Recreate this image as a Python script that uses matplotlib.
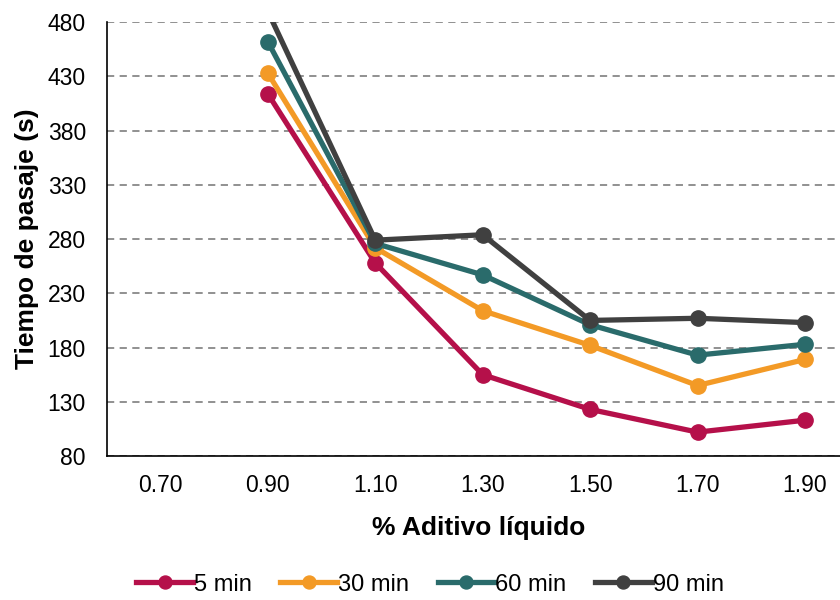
import matplotlib.pyplot as plt

plt.rcParams['font.family'] = ['Liberation Sans', 'DejaVu Sans']

# % aditivo líquido (categorías del eje x)
aditivo = ['0.70', '0.90', '1.10', '1.30', '1.50', '1.70', '1.90']

# Tiempo de pasaje (s) para cada tiempo de reposo; sin dato en 0.70
t_5min = [None, 414, 258, 155, 123, 102, 113]
t_30min = [None, 433, 272, 214, 182, 145, 169]
t_60min = [None, 462, 276, 247, 201, 173, 183]
t_90min = [None, 490, 279, 284, 205, 207, 203]

series = [
    ('5 min', t_5min, '#B5104A'),
    ('30 min', t_30min, '#F39A26'),
    ('60 min', t_60min, '#2A6B6B'),
    ('90 min', t_90min, '#404040'),
]

fig = plt.figure(figsize=(8.4, 6.0), dpi=100)
ax = fig.add_axes([0.127, 0.24, 0.885, 0.723])

xpos = list(range(len(aditivo)))
for nombre, valores, color in series:
    xs = [x for x, v in zip(xpos, valores) if v is not None]
    ys = [v for v in valores if v is not None]
    ax.plot(xs, ys, color=color, lw=3.8, marker='o', ms=11,
            label=nombre, zorder=3)

ax.set_ylim(80, 480)
ax.set_yticks(range(80, 481, 50))
ax.set_xlim(-0.5, 6.42)
ax.set_xticks(xpos)
ax.set_xticklabels(aditivo)

ax.yaxis.grid(True, color='#888888', ls=(0, (4, 3)), lw=1.3)
ax.set_axisbelow(True)
for lado in ['top', 'right']:
    ax.spines[lado].set_visible(False)
ax.spines['left'].set_color('black')
ax.spines['bottom'].set_color('black')
ax.spines['left'].set_linewidth(1.2)
ax.spines['bottom'].set_linewidth(1.2)
ax.tick_params(axis='both', length=0, labelsize=16.5)
ax.tick_params(axis='x', pad=13)
ax.tick_params(axis='y', pad=15)

ax.set_xlabel('% Aditivo líquido', fontsize=19, fontweight='bold', labelpad=14)
ax.set_ylabel('Tiempo de pasaje (s)', fontsize=19, fontweight='bold', labelpad=6)

fig.legend(loc='lower center', bbox_to_anchor=(0.512, -0.028), ncol=4,
           frameon=False, fontsize=17, handlelength=2.4, handletextpad=0.05,
           columnspacing=1.2, markerscale=0.85)

fig.savefig('out.png', dpi=100)
